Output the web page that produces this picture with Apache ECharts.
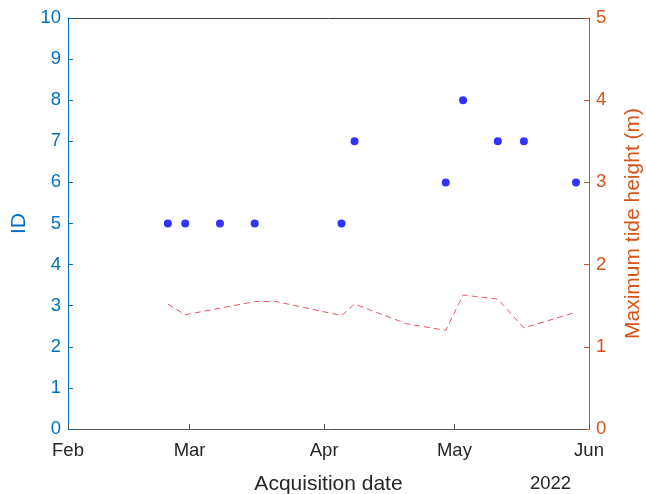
<!DOCTYPE html>
<html>
<head>
<meta charset="utf-8">
<script src="https://cdn.jsdelivr.net/npm/echarts@6/dist/echarts.min.js"></script>
<style>html,body{margin:0;padding:0;background:#fff;}#c{width:646px;height:494px;}</style>
</head>
<body>
<div id="c"></div>
<script>
var scatterDates = ['2022-02-24','2022-02-28','2022-03-08','2022-03-16','2022-04-05','2022-04-08','2022-04-29','2022-05-03','2022-05-11','2022-05-17','2022-05-29'];
var ids = [5,5,5,5,5,7,6,8,7,7,6];
var tideDates = ['2022-02-24','2022-02-28','2022-03-16','2022-03-21','2022-04-05','2022-04-08','2022-04-20','2022-04-29','2022-05-03','2022-05-11','2022-05-17','2022-05-29'];
var tideHeights = [1.52,1.39,1.55,1.55,1.38,1.52,1.28,1.20,1.63,1.58,1.23,1.42];
var monthTicks = ['2022-02-01','2022-03-01','2022-04-01','2022-05-01','2022-06-01'];
var monthNames = ['Jan','Feb','Mar','Apr','May','Jun','Jul','Aug','Sep','Oct','Nov','Dec'];
var idTicks = [0,10,1];
var tideTicks = [0,5,1];

function ts(s){ var p = s.split('-'); return Date.UTC(+p[0], +p[1]-1, +p[2]); }

var FONT = "'Liberation Sans', Arial, Helvetica, sans-serif";
var BLUE = '#0072BD', ORANGE = '#D95319';

var chart = echarts.init(document.getElementById('c'));
var tickVals = monthTicks.map(ts);
chart.setOption({
  animation: false,
  textStyle: { fontFamily: FONT },
  grid: { left: 68, right: 57, top: 18, bottom: 65, outerBoundsMode: 'none', containLabel: false },
  xAxis: [{
    type: 'value', position: 'bottom',
    min: tickVals[0], max: tickVals[tickVals.length-1],
    name: 'Acquisition date', nameLocation: 'middle', nameGap: 45,
    nameTextStyle: { fontSize: 21, color: '#262626', fontFamily: FONT },
    axisLine: { onZero: false, lineStyle: { color: '#555555', width: 1 } },
    axisTick: { show: true, inside: true, length: 5, customValues: tickVals, lineStyle: { color: '#555555' } },
    axisLabel: { customValues: tickVals, fontSize: 18.5, color: '#262626', margin: 12, fontFamily: FONT,
      formatter: function(v){ return monthNames[new Date(v).getUTCMonth()]; } },
    splitLine: { show: false }
  }, {
    type: 'value', position: 'top',
    min: tickVals[0], max: tickVals[tickVals.length-1],
    axisLine: { show: true, onZero: false, lineStyle: { color: '#404040', width: 1 } },
    axisTick: { show: false }, axisLabel: { show: false }, splitLine: { show: false }
  }],
  yAxis: [{
    type: 'value', min: idTicks[0], max: idTicks[1], interval: idTicks[2], position: 'left',
    name: 'ID', nameLocation: 'middle', nameGap: 37, nameRotate: 90,
    nameTextStyle: { fontSize: 21, color: BLUE, fontFamily: FONT },
    axisLine: { show: true, onZero: false, lineStyle: { color: BLUE, width: 1 } },
    axisTick: { show: true, inside: true, length: 5, lineStyle: { color: BLUE } },
    axisLabel: { fontSize: 18.5, color: BLUE, margin: 7, fontFamily: FONT },
    splitLine: { show: false }
  }, {
    type: 'value', min: tideTicks[0], max: tideTicks[1], interval: tideTicks[2], position: 'right',
    name: 'Maximum tide height (m)', nameLocation: 'middle', nameGap: 34, nameRotate: 90,
    nameTextStyle: { fontSize: 21, color: ORANGE, fontFamily: FONT },
    axisLine: { show: true, onZero: false, lineStyle: { color: ORANGE, width: 1 } },
    axisTick: { show: true, inside: true, length: 5, lineStyle: { color: ORANGE } },
    axisLabel: { fontSize: 18.5, color: ORANGE, margin: 7, fontFamily: FONT },
    splitLine: { show: false }
  }],
  graphic: [{
    type: 'text', left: 530, top: 474,
    style: { text: '2022', fontSize: 18.5, fill: '#262626', fontFamily: FONT }
  }],
  series: [{
    type: 'scatter', xAxisIndex: 0, yAxisIndex: 0,
    symbol: 'circle', symbolSize: 8,
    itemStyle: { color: '#0000FF' },
    data: scatterDates.map(function(d,i){ return [ts(d), ids[i]]; }),
    z: 3
  }, {
    type: 'line', xAxisIndex: 0, yAxisIndex: 1,
    showSymbol: false, symbol: 'none',
    lineStyle: { color: '#EE5560', width: 1, type: [6,4] },
    data: tideDates.map(function(d,i){ return [ts(d), tideHeights[i]]; }),
    z: 2
  }]
});
</script>
</body>
</html>
